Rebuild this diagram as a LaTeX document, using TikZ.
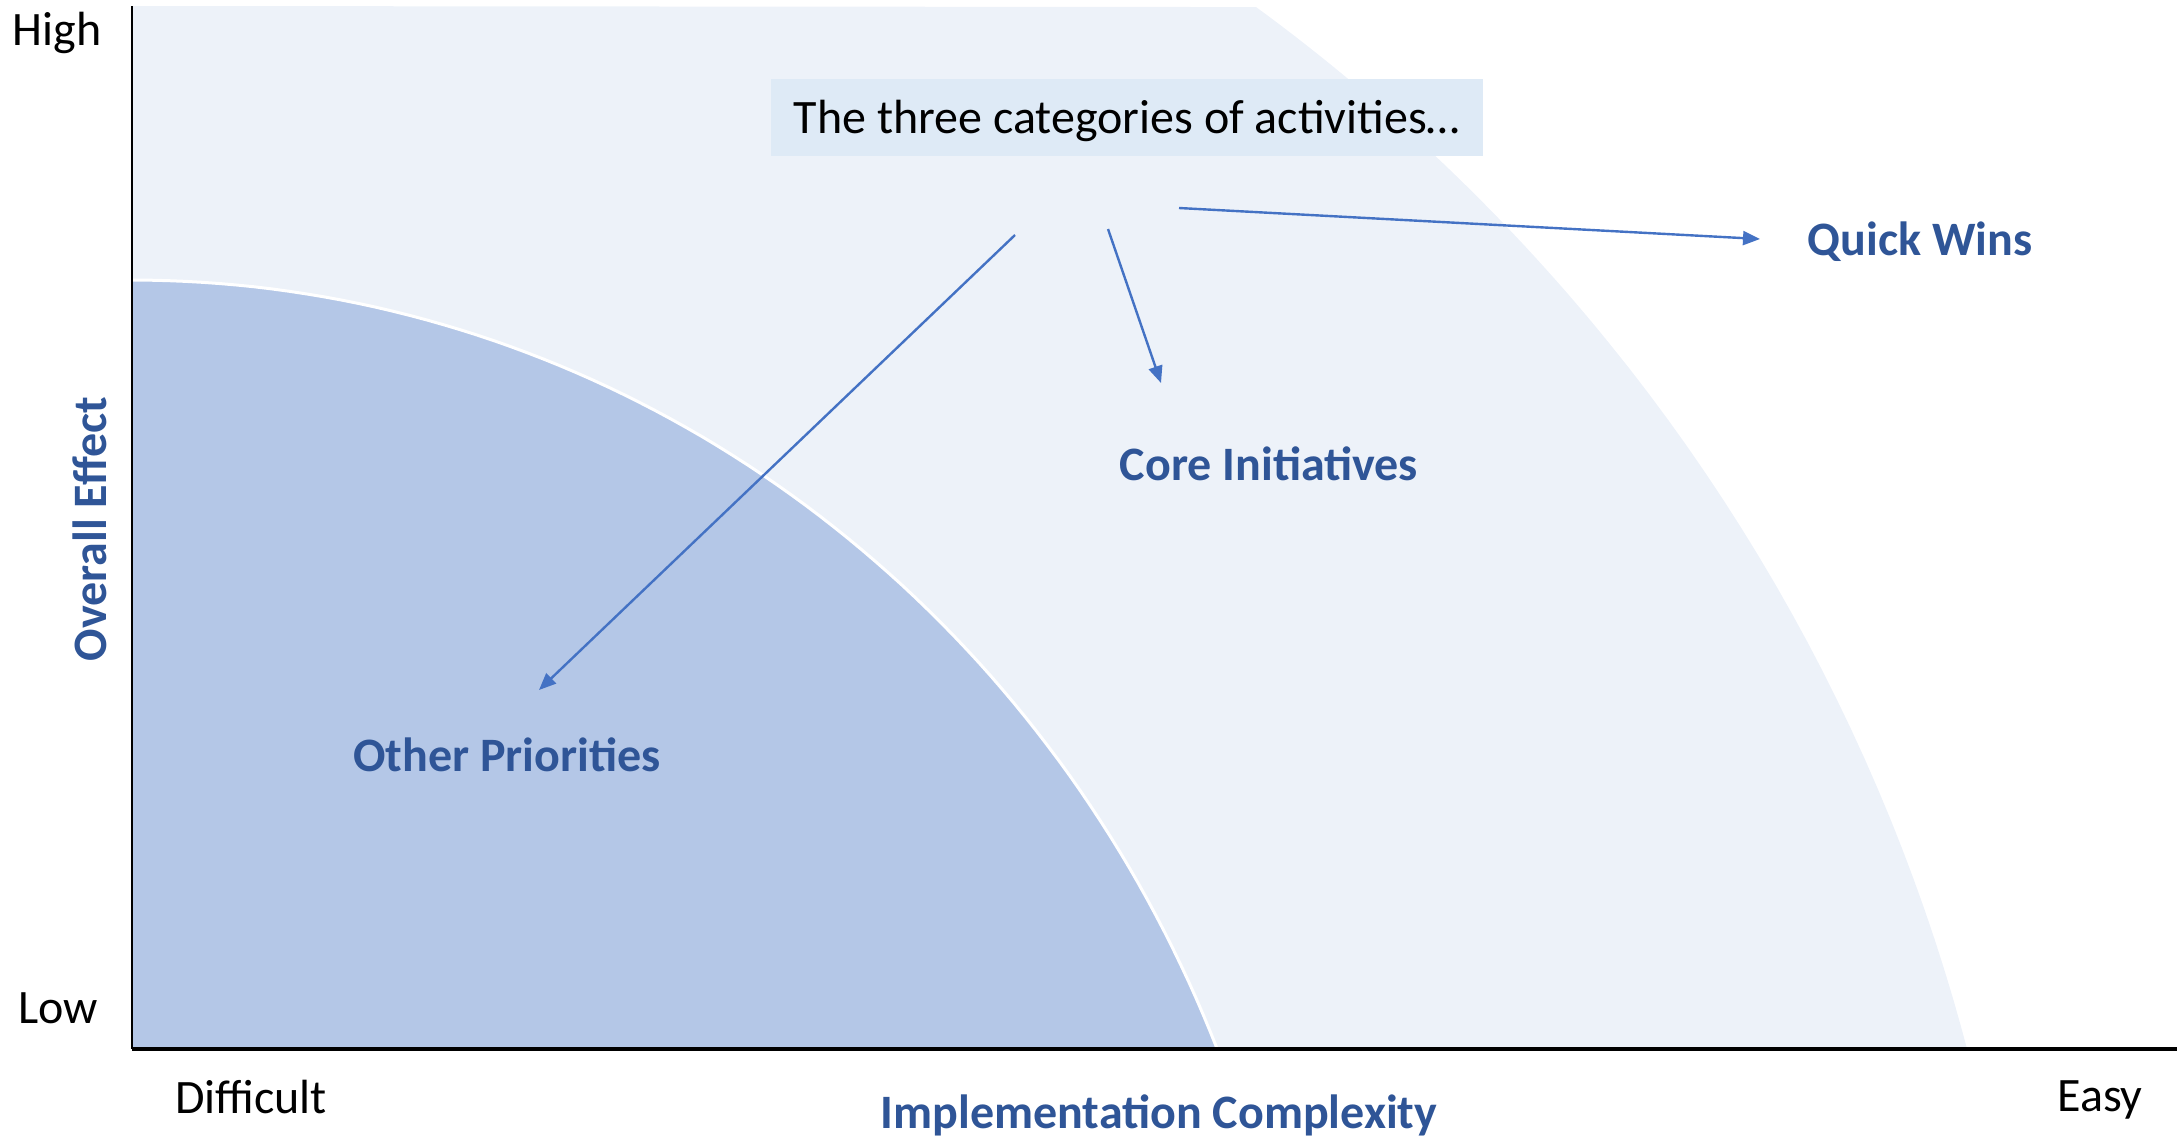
\documentclass[tikz,border=0pt]{standalone}
\usepackage{fontspec}
\setmainfont{Carlito}
\usetikzlibrary{arrows.meta}
\definecolor{lightreg}{HTML}{EDF2F9}
\definecolor{darkreg}{HTML}{B4C7E7}
\definecolor{boxfill}{HTML}{DEEAF6}
\definecolor{labblue}{HTML}{2F5597}
\definecolor{arrblue}{HTML}{4472C4}
\begin{document}
\begin{tikzpicture}[x=0.5pt,y=-0.5pt,
  txt/.style={font=\fontsize{24}{28}\selectfont, text=black, inner sep=0pt},
  lab/.style={font=\fontsize{24}{28}\selectfont\bfseries, text=labblue, inner sep=0pt},
  titlebox/.style={font=\fontsize{24}{28}\selectfont, fill=boxfill, minimum width=356pt, minimum height=38.5pt, inner sep=0pt, text height=20pt, text depth=4pt},
  arr/.style={draw=arrblue, line width=1.2pt, -{Triangle[length=8.5pt,width=7pt]}}]
\useasboundingbox (0,0) rectangle (2177,1136);
% light region
\fill[lightreg] (132,6) -- plot[domain=53.66:14.67, samples=80] ({132+1897*cos(\x)}, {1527-1887*sin(\x)}) -- (132,1049) -- cycle;
% dark region
\fill[darkreg] (132,1049) -- plot[domain=90:22.54, samples=80] ({132+1175*cos(\x)}, {1527-1247*sin(\x)}) -- cycle;
\draw[white, line width=1.5pt] plot[domain=90:22.54, samples=80] ({132+1175*cos(\x)}, {1527-1247*sin(\x)});
% axes
\coordinate (ytop) at (132,6);
\coordinate (orig) at (132,1049);
\coordinate (xend) at (2177,1049);
\draw[black, line width=1.2pt] (ytop) -- (orig);
\draw[black, line width=1.6pt] (orig) -- (xend);
% axis texts
\node[txt] (high) at (57,33) {High};
\node[txt] (low) at (58,1008) {Low};
\node[txt] (diff) at (251,1097) {Difficult};
\node[txt] (easy) at (2100,1100) {Easy};
\node[lab] (xlab) at (1159,1115) {Implementation Complexity};
\node[lab, rotate=90] (ylab) at (90,529) {Overall Effect};
% title box
\node[titlebox] (title) at (1127,117.5) {The three categories of activities…};
% category labels
\node[lab] (qw) at (1920,242) {Quick Wins};
\node[lab] (ci) at (1269,464) {Core Initiatives};
\node[lab] (op) at (507,755) {Other Priorities};
% arrows
\coordinate (qs) at (1179,208);
\coordinate (qe) at (1760,239);
\coordinate (cs) at (1108,229);
\coordinate (ce) at (1161,383);
\coordinate (os) at (1015,235);
\coordinate (oe) at (539,690);
\draw[arr] (qs) -- (qe);
\draw[arr] (cs) -- (ce);
\draw[arr] (os) -- (oe);
\end{tikzpicture}
\end{document}
